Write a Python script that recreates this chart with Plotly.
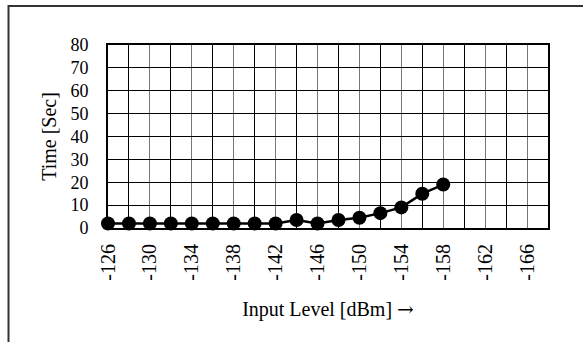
import plotly.graph_objects as go

input_level = [-126, -128, -130, -132, -134, -136, -138, -140, -142, -144,
               -146, -148, -150, -152, -154, -156, -158]
time_sec = [2, 2, 2, 2, 2, 2, 2, 2, 2, 3.5, 2, 3.5, 4.5, 6.5, 9, 15, 19]
x_tick_vals = [-126, -130, -134, -138, -142, -146, -150, -154, -158, -162, -166]
x_tick_text = [str(v) for v in x_tick_vals]

W, H = 583, 342
L, R, T, B = 108, 35, 45, 114
pw, ph = W - L - R, H - T - B

FONT = "Liberation Serif, Times New Roman, serif"

fig = go.Figure()
fig.add_trace(go.Scatter(
    x=input_level, y=time_sec, mode="lines+markers",
    line=dict(color="black", width=2.5),
    marker=dict(color="black", size=14),
    cliponaxis=False, showlegend=False,
))

fig.update_layout(
    width=W, height=H,
    margin=dict(l=L, r=R, t=T, b=B),
    paper_bgcolor="white", plot_bgcolor="white",
    font=dict(family=FONT, size=18, color="black"),
    xaxis=dict(
        range=[-126, -168], tickmode="array",
        tickvals=x_tick_vals, ticktext=x_tick_text,
        tickangle=-90, ticklabelstandoff=6,
        showgrid=True, gridcolor="#777", gridwidth=1,
        minor=dict(tick0=-128, dtick=4, showgrid=True, gridcolor="black", gridwidth=1),
        zeroline=False,
        showline=True, linecolor="black", linewidth=2, mirror=True,
        title=dict(text='Input Level [dBm] <span style="font-family:DejaVu Serif">→</span>',
                   font=dict(size=20, color="black"), standoff=22),
        tickfont=dict(size=20),
    ),
    yaxis=dict(
        range=[0, 80], dtick=10,
        showgrid=True, gridcolor="black", gridwidth=1,
        zeroline=False, ticklabelstandoff=14,
        showline=True, linecolor="black", linewidth=2, mirror=True,
        title=dict(text="Time [Sec]", font=dict(size=20, color="black"), standoff=8),
        tickfont=dict(size=18),
    ),
)

# outer frame
x0 = (8.5 - L) / pw
y1 = (H - B - 6) / ph
fig.add_shape(type="rect", xref="paper", yref="paper",
              x0=x0, x1=(W + 10 - L) / pw, y0=-(B + 10) / ph, y1=y1,
              line=dict(color="#333", width=2), layer="below")

fig.write_html("out.html", config={"displayModeBar": False})

with open("out.html", "r", encoding="utf-8") as f:
    html = f.read()
html = html.replace("<body>", '<body style="margin:0;padding:0;">', 1)
html = html.replace("<head>", "<head><style>html,body{margin:0;padding:0;}</style>", 1)
with open("out.html", "w", encoding="utf-8") as f:
    f.write(html)
